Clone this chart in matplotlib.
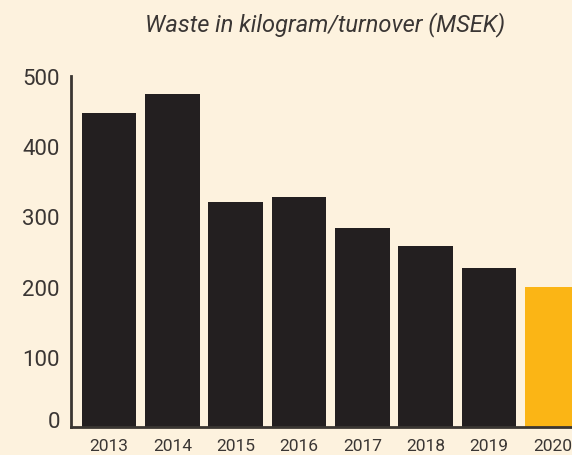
import matplotlib.pyplot as plt
import matplotlib.transforms as mtransforms
import numpy as np

# waste per turnover, kg/MSEK
years = ['2013', '2014', '2015', '2016', '2017', '2018', '2019', '2020']
waste = [447, 474, 320, 328, 283, 258, 226, 199]
y_ticks = [0, 100, 200, 300, 400, 500]

bg = '#FDF2DE'
dark = '#231F20'
yellow = '#FBB515'
txt = '#3a3634'

fig = plt.figure(figsize=(5.72, 4.56), dpi=100, facecolor=bg)
ax = fig.add_axes([71/572, 28/456, 1 - 71/572, (428 - 77)/456])
ax.set_facecolor(bg)

x = np.arange(len(years))
colors = [dark] * (len(years) - 1) + [yellow]
ax.bar(x, waste, width=0.86, color=colors, edgecolor='none')

ax.set_xlim(-0.6, 7.31)
ax.set_ylim(0, 500)
ax.set_xticks(x)
ax.set_xticklabels(years, fontsize=12.5, color=txt, family='Roboto', fontweight='normal')
ax.set_yticks(y_ticks)
ax.set_yticklabels([str(t) for t in y_ticks], fontsize=16, color=txt, family='Roboto', fontweight='normal')
ax.tick_params(axis='both', length=0)
ax.tick_params(axis='y', pad=8)
ax.tick_params(axis='x', pad=8)

# the "0" label sits a bit above the baseline in the original
lbl0 = ax.get_yticklabels()[0]
lbl0.set_transform(lbl0.get_transform() + mtransforms.ScaledTranslation(0, 8/100, fig.dpi_scale_trans))

for s in ['top', 'right']:
    ax.spines[s].set_visible(False)
for s in ['left', 'bottom']:
    ax.spines[s].set_color('#3a3632')
    ax.spines[s].set_linewidth(2)

fig.text(325/572, 1 - 25/456, 'Waste in kilogram/turnover (MSEK)', ha='center', va='center',
         fontsize=17, style='italic', color=txt, family='Roboto', fontweight='normal')

fig.savefig('out.png', dpi=100, facecolor=bg)
